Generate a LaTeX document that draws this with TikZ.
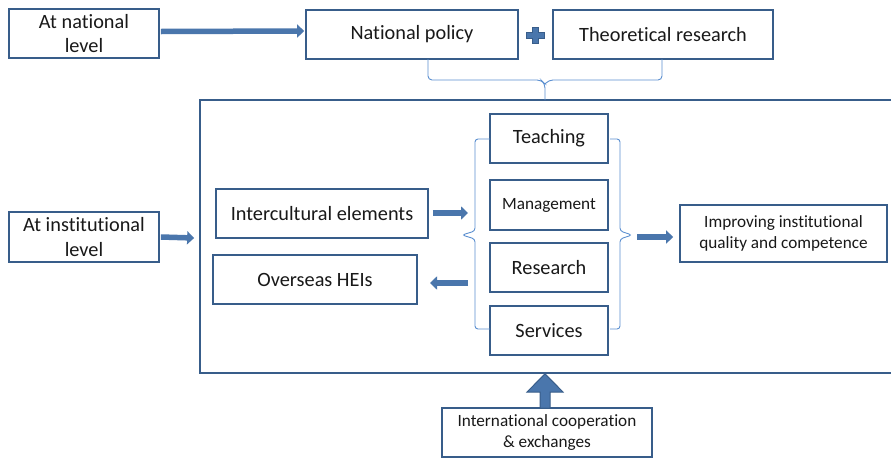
\documentclass[tikz,border=0pt]{standalone}
\usepackage{fontspec}
\setmainfont{Carlito}[Ligatures=NoCommon]
\usetikzlibrary{arrows.meta,calc}
\definecolor{boxc}{HTML}{385D8A}
\definecolor{arrc}{HTML}{4A76AC}
\definecolor{brc}{HTML}{5B8FD0}
\begin{document}
\begin{tikzpicture}[x=1pt,y=-1pt,
  box/.style={draw=boxc, line width=1.7pt, fill=white, inner sep=2pt, align=center,
     text=black!90, font=\fontsize{20.3}{24.5}\selectfont},
  sbox/.style={box, font=\fontsize{17.2}{20.5}\selectfont},
  blk/.style={line width=5.5pt, draw=arrc, -{Triangle[length=7pt,width=13pt]}},
  brace/.style={draw=brc, line width=0.9pt, rounded corners=4pt}]
\useasboundingbox (0,0) rectangle (891,461);
\clip (0,0) rectangle (891,461);
\fill[white] (0,0) rectangle (891,461);
% big institutional frame
\node[draw=boxc, line width=1.7pt, minimum width=710pt, minimum height=273pt, inner sep=0pt] (big) at (555,236.5) {};
% boxes
\node[box, minimum width=150pt, minimum height=49pt] (natl) at (84,33.5) {At national\\level};
\node[box, minimum width=212pt, minimum height=49pt] (npol) at (412,34.5) {National policy};
\node[box, minimum width=220pt, minimum height=49pt] (theo) at (663,34.5) {Theoretical research};
\node[box, minimum width=150pt, minimum height=50pt] (inst) at (84,237) {At institutional\\level};
\node[box, minimum width=212pt, minimum height=49pt] (inter) at (322,213.5) {Intercultural elements};
\node[box, minimum width=204pt, minimum height=49pt] (overs) at (315,279.5) {Overseas HEIs};
\node[box, minimum width=118pt, minimum height=49pt] (teach) at (549,138.5) {Teaching};
\node[sbox, minimum width=118pt, minimum height=50pt] (mgmt) at (549,205) {Management};
\node[box, minimum width=118pt, minimum height=49pt] (res) at (549,267.5) {Research};
\node[box, minimum width=118pt, minimum height=49pt] (serv) at (549,330.5) {Services};
\node[sbox, minimum width=207pt, minimum height=57pt] (impr) at (783.5,233.5) {Improving institutional\\quality and competence};
\node[sbox, minimum width=210pt, minimum height=49pt] (intl) at (547,432.5) {International cooperation\\\& exchanges};
% plus sign
\filldraw[fill=arrc, draw=boxc, line width=0.6pt]
  (532,27) -- (538,27) -- (538,32) -- (544,32) -- (544,38) -- (538,38) -- (538,43)
  -- (532,43) -- (532,38) -- (526,38) -- (526,32) -- (532,32) -- cycle;
% top brace
\coordinate (btip) at (545,100);
\draw[brace] (428,59) -- (428,80) -- (541,80) -- (545,84) [sharp corners] -- (btip);
\draw[brace] (662,59) -- (662,80) -- (549,80) -- (545,84);
% left brace
\coordinate (ltip) at (462,235);
\draw[brace, rounded corners=3pt] (490,139) -- (475,139) -- (475,231) -- (ltip) -- (475,239) -- (475,329) -- (490,329);
% right brace
\coordinate (rtip) at (632,235);
\draw[brace, rounded corners=3pt] (610,139) -- (620,139) -- (620,231) -- (rtip) -- (620,239) -- (620,329) -- (610,329);
% arrows
\draw[blk] ($(natl.east)+(1,-2)$) -- ($(npol.west)+(-1,-3.5)$);
\draw[blk] ($(inst.east)+(1,0)$) -- ($(big.west)+(-5,1.5)$);
\coordinate (a1e) at (468,213);
\draw[blk] ($(inter.east)+(4,-0.5)$) -- (a1e);
\coordinate (a2s) at (468,283);
\draw[blk] (a2s) -- (430,283);
\coordinate (a3s) at (637,237);
\draw[blk] (a3s) -- ($(impr.west)+(-6,3.5)$);
% big up arrow
\coordinate (ua) at (545,408);
\filldraw[fill=arrc, draw=boxc, line width=1pt]
  ($(ua)+(-5,0)$) -- ($(ua)+(-5,-16)$) -- ($(ua)+(-18,-16)$)
  -- (ua |- big.south) -- ($(ua)+(18,-16)$) -- ($(ua)+(5,-16)$) -- ($(ua)+(5,0)$) -- cycle;
\end{tikzpicture}
\end{document}
